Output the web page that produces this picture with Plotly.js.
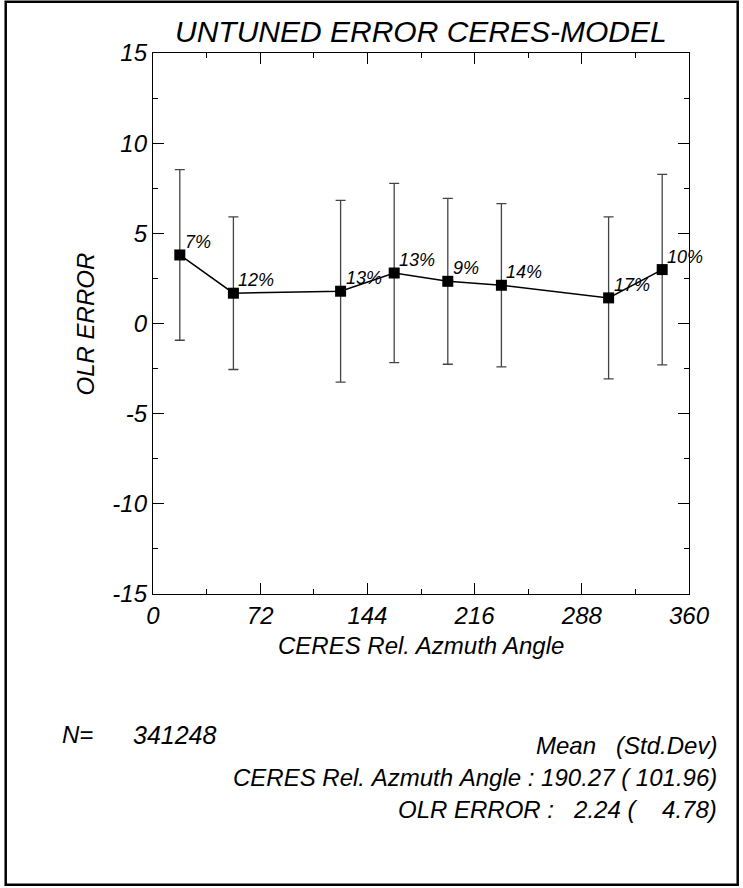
<!DOCTYPE html>
<html>
<head>
<meta charset="utf-8">
<script src="https://cdn.plot.ly/plotly-3.0.1.min.js"></script>
<style>
  html, body { margin: 0; padding: 0; background: #fff; }
  #chart { width: 743px; height: 888px; }
</style>
</head>
<body>
<div id="chart"></div>
<script>
// ---- data ----
const angles = [18, 54, 126, 162, 198, 234, 306, 342];
const olrError = [3.80, 1.68, 1.79, 2.80, 2.34, 2.12, 1.42, 2.99];
const olrStd = [4.73, 4.23, 5.04, 4.97, 4.60, 4.53, 4.49, 5.28];
const pctLabels = ['7%', '12%', '13%', '13%', '9%', '14%', '17%', '10%'];
const xTickVals = [0, 72, 144, 216, 288, 360];
const xTickText = ['0', '72', '144', '216', '288', '360'];
const yTickVals = [-15, -10, -5, 0, 5, 10, 15];
const yTickText = ['-15', '-10', '-5', '0', '5', '10', '15'];
const titleText = 'UNTUNED ERROR CERES-MODEL';
const xTitle = 'CERES Rel. Azmuth Angle';
const yTitle = 'OLR ERROR';
const nText = 'N=';
const nValue = '341248';
const statLines = [
  'Mean   (Std.Dev)',
  'CERES Rel. Azmuth Angle : 190.27 ( 101.96)',
  'OLR ERROR :   2.24 (    4.78)'
];

// ---- layout geometry ----
const FIG_W = 743, FIG_H = 888;
const L = 153.3, R = 689.3, T = 53.3, B = 594.3;
const PW = R - L, PH = B - T;
const px2x = px => (px - L) / PW;
const py2y = py => (B - py) / PH;
const FONT = 'Liberation Sans, Arial, Helvetica, sans-serif';
const it = (size) => ({ family: FONT, size: size, color: '#000', style: 'italic' });

const trace = {
  x: angles,
  y: olrError,
  type: 'scatter',
  mode: 'lines+markers',
  line: { color: '#000', width: 1.5 },
  marker: { symbol: 'square', size: 11, color: '#000' },
  error_y: { type: 'data', array: olrStd, visible: true, color: '#444', thickness: 1.3, width: 5 },
  hoverinfo: 'skip',
  showlegend: false
};

const annotations = [];
angles.forEach((a, i) => {
  annotations.push({
    x: a, y: olrError[i], xref: 'x', yref: 'y',
    text: pctLabels[i], showarrow: false,
    xanchor: 'left', yanchor: 'bottom', xshift: 3, yshift: 1,
    font: it(18)
  });
});
annotations.push({
  x: px2x(421), y: py2y(32), xref: 'paper', yref: 'paper',
  text: titleText, showarrow: false, xanchor: 'center', yanchor: 'middle', font: it(30)
});
annotations.push({
  x: px2x(86), y: py2y(324), xref: 'paper', yref: 'paper',
  text: yTitle, showarrow: false, textangle: -90, xanchor: 'center', yanchor: 'middle', font: it(24)
});
annotations.push({
  x: px2x(421), y: py2y(646), xref: 'paper', yref: 'paper',
  text: xTitle, showarrow: false, xanchor: 'center', yanchor: 'middle', font: it(24)
});
annotations.push({
  x: px2x(60), y: py2y(735), xref: 'paper', yref: 'paper',
  text: nText, showarrow: false, xanchor: 'left', yanchor: 'middle', font: it(24)
});
annotations.push({
  x: px2x(131), y: py2y(735), xref: 'paper', yref: 'paper',
  text: nValue, showarrow: false, xanchor: 'left', yanchor: 'middle', font: it(25)
});
const statY = [746, 778, 810];
statLines.forEach((s, i) => {
  annotations.push({
    x: px2x(719), y: py2y(statY[i]), xref: 'paper', yref: 'paper',
    text: s.replace(/ /g, '&nbsp;'), showarrow: false, xanchor: 'right', yanchor: 'middle', font: it(24)
  });
});

const frame = { type: 'rect', xref: 'paper', yref: 'paper',
  x0: px2x(6), x1: px2x(738), y0: py2y(885), y1: py2y(2),
  line: { color: '#000', width: 2.5 }, fillcolor: 'rgba(0,0,0,0)', layer: 'above' };

const axisCommon = {
  showline: true, linecolor: '#000', linewidth: 1.2, mirror: 'ticks',
  ticks: 'inside', ticklen: 11, tickwidth: 1, tickcolor: '#000',
  showgrid: false, zeroline: false, tickfont: it(24), fixedrange: true
};

const layout = {
  width: FIG_W, height: FIG_H,
  margin: { l: L, r: FIG_W - R, t: T, b: FIG_H - B, pad: 0 },
  paper_bgcolor: '#fff', plot_bgcolor: '#fff',
  xaxis: Object.assign({}, axisCommon, {
    range: [0, 360], tickmode: 'array', tickvals: xTickVals, ticktext: xTickText,
    minor: { dtick: 36, tick0: 0, ticks: 'inside', ticklen: 5, tickcolor: '#000', showgrid: false }
  }),
  yaxis: Object.assign({}, axisCommon, {
    range: [-15, 15], tickmode: 'array', tickvals: yTickVals, ticktext: yTickText,
    minor: { dtick: 2.5, tick0: 0, ticks: 'inside', ticklen: 5, tickcolor: '#000', showgrid: false }
  }),
  annotations: annotations,
  shapes: [frame]
};

Plotly.newPlot('chart', [trace], layout, { staticPlot: true, displayModeBar: false });
</script>
</body>
</html>
